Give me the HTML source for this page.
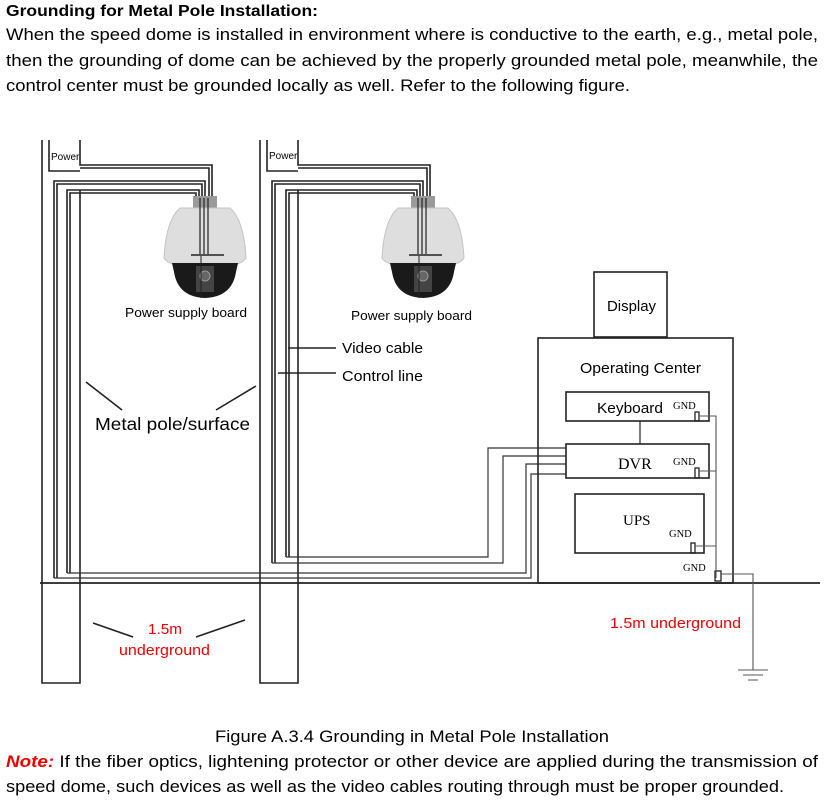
<!DOCTYPE html>
<html><head><meta charset="utf-8"><style>
html,body{margin:0;padding:0;background:#fff;width:829px;height:800px;overflow:hidden}
svg{display:block}
text{font-family:"Liberation Sans",sans-serif;fill:#000}
.s{font-family:"Liberation Serif",serif}
</style></head><body>
<svg width="829" height="800" viewBox="0 0 829 800" xmlns="http://www.w3.org/2000/svg">
<text x="6" y="16" font-size="16" font-weight="bold" textLength="312" lengthAdjust="spacingAndGlyphs">Grounding for Metal Pole Installation:</text>
<text x="6" y="40" font-size="16.5" textLength="812" lengthAdjust="spacingAndGlyphs">When the speed dome is installed in environment where is conductive to the earth, e.g., metal pole,</text>
<text x="6" y="66" font-size="16.5" textLength="812" lengthAdjust="spacingAndGlyphs">then the grounding of dome can be achieved by the properly grounded metal pole, meanwhile, the</text>
<text x="6" y="91" font-size="16.5" textLength="624" lengthAdjust="spacingAndGlyphs">control center must be grounded locally as well. Refer to the following figure.</text>

<g fill="none" stroke="#222" stroke-width="1.6">
<path d="M42 140V683H80V190"/>
<path d="M49 140V171H80"/>
<path d="M80 140V165H212V198 M80 168H209V198"/>
<path d="M54 578V181H205V198 M57 578V184H202V198"/>
<path d="M67 573V190H199V198 M70 573V193H196V198"/>
<path d="M260 140V683H298V190"/>
<path d="M267 140V171H298"/>
<path d="M298 140V165H430V198 M298 168H427V198"/>
<path d="M272 563V181H423V198 M275 563V184H420V198"/>
<path d="M286 557V190H417V198 M289 557V193H414V198"/>
</g>
<g fill="none" stroke="#333" stroke-width="1.2">
<path d="M54 578H531V474H566"/>
<path d="M67 573H526V464H566"/>
<path d="M272 563H503V456H566"/>
<path d="M286 557H488V448H566"/>
</g>
<text x="51" y="160" font-size="10">Power</text>
<text x="269" y="159" font-size="10">Power</text>

<g id="d1">
<rect x="193" y="196" width="24" height="12" fill="#9a9a9a"/>
<path d="M180 208H230Q244 220 246 258Q240 268 205 268Q170 268 164 258Q166 220 180 208Z" fill="#dedede" stroke="#c4c4c4"/>
<path d="M172 263H238L236 272Q232 297 205 298Q178 297 174 272Z" fill="#1a1a1a"/>
<rect x="196" y="266" width="18" height="26" fill="#444"/>
<circle cx="205" cy="276" r="5" fill="#666" stroke="#999"/>
<path d="M200 198V254 M204 198V254 M208 198V254" stroke="#222" stroke-width="1.2"/>
<path d="M191 255H224" stroke="#222" stroke-width="1.5"/>
<path d="M201 256V298" stroke="#222" stroke-width="1"/>
</g>
<use href="#d1" transform="translate(218,0)"/>
<text x="125" y="317" font-size="13" textLength="122" lengthAdjust="spacingAndGlyphs">Power supply board</text>
<text x="351" y="320" font-size="13" textLength="121" lengthAdjust="spacingAndGlyphs">Power supply board</text>

<g stroke="#222" stroke-width="1.6">
<path d="M288 348H336 M278 373H336"/>
<path d="M86 382L122 410 M216 410L256 386"/>
<path d="M93 623L133 637 M196 637L245 620"/>
</g>
<text x="342" y="353" font-size="14.5" textLength="81" lengthAdjust="spacingAndGlyphs">Video cable</text>
<text x="342" y="381" font-size="14.5" textLength="81" lengthAdjust="spacingAndGlyphs">Control line</text>
<text x="95" y="430" font-size="17.5" textLength="155" lengthAdjust="spacingAndGlyphs">Metal pole/surface</text>
<text x="148" y="634" font-size="14.5" textLength="34" lengthAdjust="spacingAndGlyphs" style="fill:#e00">1.5m</text>
<text x="119" y="655" font-size="14.5" textLength="91" lengthAdjust="spacingAndGlyphs" style="fill:#e00">underground</text>

<path d="M40 583H820" stroke="#222" stroke-width="1.8"/>

<g fill="none" stroke="#222" stroke-width="1.6">
<rect x="594" y="272" width="73" height="65"/>
<rect x="538" y="338" width="195" height="245"/>
<rect x="566" y="392" width="143" height="29"/>
<rect x="566" y="444" width="143" height="34"/>
<rect x="575" y="494" width="129" height="59"/>
<path d="M640 421V444" stroke-width="1.2"/>
<rect x="695" y="412" width="4" height="9" stroke-width="1.3"/>
<rect x="695" y="468" width="4" height="10" stroke-width="1.3"/>
<rect x="691" y="543" width="4" height="10" stroke-width="1.3"/>
<rect x="715" y="571" width="6" height="10" stroke-width="1.3"/>
</g>
<g fill="none" stroke="#555" stroke-width="1.1">
<path d="M699 416H716V578 M699 471H716 M695 546H716"/>
<path d="M721 574H753V670"/>
<path d="M738 670H768 M743 675H763 M748 680H758"/>
</g>
<text x="607" y="311" font-size="14.5" textLength="49" lengthAdjust="spacingAndGlyphs">Display</text>
<text x="580" y="373" font-size="14.5" textLength="121" lengthAdjust="spacingAndGlyphs">Operating Center</text>
<text x="597" y="413" font-size="14.5" textLength="66" lengthAdjust="spacingAndGlyphs">Keyboard</text>
<text x="673" y="409" font-size="10.5" class="s">GND</text>
<text x="618" y="469" font-size="16" class="s">DVR</text>
<text x="673" y="465" font-size="10.5" class="s">GND</text>
<text x="623" y="525" font-size="15" class="s">UPS</text>
<text x="669" y="537" font-size="10.5" class="s">GND</text>
<text x="683" y="571" font-size="10.5" class="s">GND</text>
<text x="610" y="628" font-size="14.5" textLength="131" lengthAdjust="spacingAndGlyphs" style="fill:#e00">1.5m underground</text>

<text x="215" y="742" font-size="16.5" textLength="394" lengthAdjust="spacingAndGlyphs">Figure A.3.4 Grounding in Metal Pole Installation</text>
<text x="6" y="767" font-size="16.5" textLength="812" lengthAdjust="spacingAndGlyphs"><tspan font-weight="bold" font-style="italic" style="fill:#e00">Note:</tspan> If the fiber optics, lightening protector or other device are applied during the transmission of</text>
<text x="6" y="792" font-size="16.5" textLength="778" lengthAdjust="spacingAndGlyphs">speed dome, such devices as well as the video cables routing through must be proper grounded.</text>
</svg>
</body></html>
